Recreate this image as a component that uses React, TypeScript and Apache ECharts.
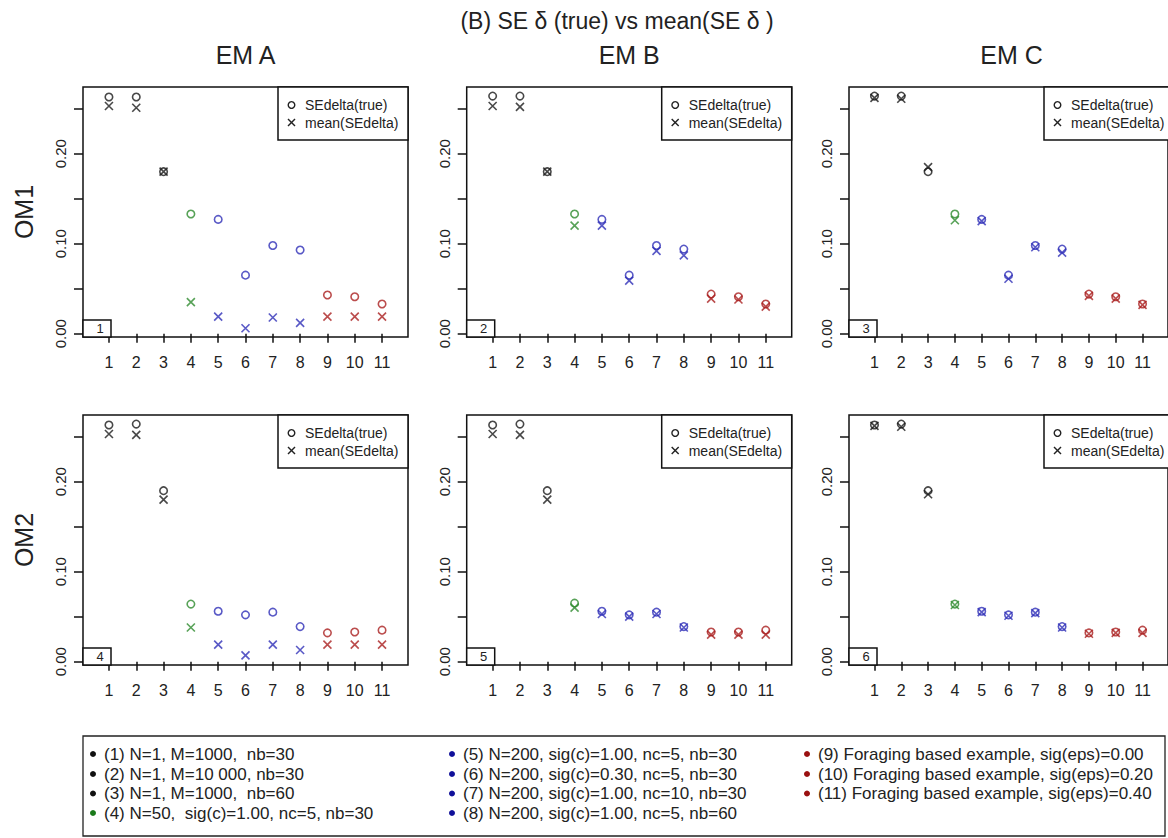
import React, { useEffect, useRef } from 'react';
import * as echarts from 'echarts';

// ---------- data ----------
const categories = [1, 2, 3, 4, 5, 6, 7, 8, 9, 10, 11];
const groupOfCategory = [0, 0, 0, 1, 2, 2, 2, 2, 3, 3, 3];

const om1EmATrue = [0.263, 0.263, 0.180, 0.133, 0.127, 0.065, 0.098, 0.093, 0.043, 0.041, 0.033];
const om1EmAMean = [0.253, 0.251, 0.180, 0.035, 0.019, 0.006, 0.018, 0.012, 0.019, 0.019, 0.019];
const om1EmBTrue = [0.264, 0.264, 0.180, 0.133, 0.127, 0.065, 0.098, 0.094, 0.044, 0.041, 0.033];
const om1EmBMean = [0.253, 0.252, 0.180, 0.120, 0.120, 0.059, 0.092, 0.087, 0.039, 0.038, 0.030];
const om1EmCTrue = [0.264, 0.264, 0.180, 0.133, 0.127, 0.065, 0.098, 0.094, 0.044, 0.041, 0.033];
const om1EmCMean = [0.262, 0.261, 0.185, 0.126, 0.125, 0.061, 0.096, 0.090, 0.042, 0.039, 0.032];
const om2EmATrue = [0.263, 0.264, 0.190, 0.064, 0.056, 0.052, 0.055, 0.039, 0.032, 0.033, 0.035];
const om2EmAMean = [0.253, 0.252, 0.180, 0.038, 0.019, 0.007, 0.019, 0.013, 0.019, 0.019, 0.019];
const om2EmBTrue = [0.263, 0.264, 0.190, 0.065, 0.056, 0.052, 0.055, 0.039, 0.033, 0.033, 0.035];
const om2EmBMean = [0.253, 0.252, 0.180, 0.060, 0.053, 0.050, 0.053, 0.038, 0.030, 0.030, 0.030];
const om2EmCTrue = [0.263, 0.264, 0.190, 0.064, 0.056, 0.052, 0.055, 0.039, 0.032, 0.033, 0.035];
const om2EmCMean = [0.262, 0.261, 0.186, 0.063, 0.055, 0.051, 0.054, 0.038, 0.031, 0.032, 0.032];

const yTickValues = [0, 0.05, 0.1, 0.15, 0.2, 0.25];
const yLabelValues = [0, 0.1, 0.2];

const mainTitle = '(B) SE \u03b4 (true) vs mean(SE \u03b4 )';
const columnTitles = ['EM A', 'EM B', 'EM C'];
const rowTitles = ['OM1', 'OM2'];
const panelLegendNames = ['SEdelta(true)', 'mean(SEdelta)'];

const scenarioLabels = [
  '(1) N=1, M=1000,  nb=30',
  '(2) N=1, M=10 000, nb=30',
  '(3) N=1, M=1000,  nb=60',
  '(4) N=50,  sig(c)=1.00, nc=5, nb=30',
  '(5) N=200, sig(c)=1.00, nc=5, nb=30',
  '(6) N=200, sig(c)=0.30, nc=5, nb=30',
  '(7) N=200, sig(c)=1.00, nc=10, nb=30',
  '(8) N=200, sig(c)=1.00, nc=5, nb=60',
  '(9) Foraging based example, sig(eps)=0.00',
  '(10) Foraging based example, sig(eps)=0.20',
  '(11) Foraging based example, sig(eps)=0.40',
];

const panels = [
  { trueVals: om1EmATrue, meanVals: om1EmAMean, tag: '1' },
  { trueVals: om1EmBTrue, meanVals: om1EmBMean, tag: '2' },
  { trueVals: om1EmCTrue, meanVals: om1EmCMean, tag: '3' },
  { trueVals: om2EmATrue, meanVals: om2EmAMean, tag: '4' },
  { trueVals: om2EmBTrue, meanVals: om2EmBMean, tag: '5' },
  { trueVals: om2EmCTrue, meanVals: om2EmCMean, tag: '6' },
];

// ---------- styling / layout ----------
const markColors = ['#1a1a1a', '#2e8b2e', '#3030b8', '#aa2020'];
const dotColors = ['#111111', '#1a7a1a', '#10109a', '#9a1010'];
const FONT = '"Liberation Sans", Arial, Helvetica, sans-serif';
const CROSS = 'path://M0,0L10,10M10,0L0,10';

const colLefts = [83, 466.7, 849];
const rowTops = [87, 415];
const PW = 325;
const PH = 250;

export default function App() {
  const ref = useRef<HTMLDivElement>(null);

  useEffect(() => {
    if (!ref.current) return;
    const chart = echarts.init(ref.current, null, { renderer: 'svg' });

    const grids: any[] = [];
    const xAxes: any[] = [];
    const yAxes: any[] = [];
    const series: any[] = [];
    const graphics: any[] = [];

    panels.forEach((p, i) => {
      const col = i % 3;
      const row = Math.floor(i / 3);
      const left = colLefts[col];
      const top = rowTops[row];
      grids.push({
        left, top, width: PW, height: PH,
        show: true, borderColor: '#111', borderWidth: 1.5, backgroundColor: 'transparent',
      });
      xAxes.push({
        type: 'value', gridIndex: i, min: 0.05, max: 11.95,
        axisLine: { show: false },
        splitLine: { show: false },
        axisTick: { show: true, length: 9, lineStyle: { color: '#111', width: 1.5 }, customValues: categories },
        axisLabel: {
          show: true, customValues: categories, margin: 17,
          fontSize: 16, color: '#222', fontFamily: FONT,
          formatter: (v: number) => String(Math.round(v)),
        },
      });
      yAxes.push({
        type: 'value', gridIndex: i, min: -0.0037, max: 0.2741,
        axisLine: { show: false },
        splitLine: { show: false },
        axisTick: { show: true, length: 9, lineStyle: { color: '#111', width: 1.5 }, customValues: yTickValues },
        axisLabel: {
          show: true, customValues: yLabelValues, rotate: 90, margin: 15,
          fontSize: 15, color: '#222', fontFamily: FONT,
          formatter: (v: number) => v.toFixed(2),
        },
      });
      series.push({
        type: 'scatter', xAxisIndex: i, yAxisIndex: i, silent: true,
        name: panelLegendNames[0], symbol: 'circle', symbolSize: 7.5, z: 3,
        data: categories.map((c, k) => ({
          value: [c, p.trueVals[k]],
          itemStyle: { color: 'transparent', borderColor: markColors[groupOfCategory[k]], borderWidth: 1.6 },
        })),
      });
      series.push({
        type: 'scatter', xAxisIndex: i, yAxisIndex: i, silent: true,
        name: panelLegendNames[1], symbol: CROSS, symbolSize: 8, z: 4,
        data: categories.map((c, k) => ({
          value: [c, p.meanVals[k]],
          itemStyle: { color: 'transparent', borderColor: markColors[groupOfCategory[k]], borderWidth: 1.6 },
        })),
      });

      // panel tag box
      graphics.push({
        type: 'rect', shape: { x: left, y: top + PH - 17, width: 28, height: 17 },
        style: { fill: '#fff', stroke: '#111', lineWidth: 1.5 }, z: 10,
      });
      graphics.push({
        type: 'text', x: left + 17, y: top + PH - 8.5, z: 11,
        style: { text: p.tag, fontSize: 13, fontFamily: FONT, fill: '#222', textAlign: 'center', textVerticalAlign: 'middle' },
      });

      // panel legend
      const lx = left + PW - 130;
      graphics.push({
        type: 'rect', shape: { x: lx, y: top, width: 130, height: 53 },
        style: { fill: '#fff', stroke: '#111', lineWidth: 1.5 }, z: 10,
      });
      graphics.push({
        type: 'circle', shape: { cx: lx + 13.5, cy: top + 18, r: 3.3 },
        style: { fill: 'none', stroke: '#222', lineWidth: 1.4 }, z: 11,
      });
      graphics.push({
        type: 'line', shape: { x1: lx + 10, y1: top + 32, x2: lx + 17, y2: top + 39 },
        style: { stroke: '#222', lineWidth: 1.4 }, z: 11,
      });
      graphics.push({
        type: 'line', shape: { x1: lx + 17, y1: top + 32, x2: lx + 10, y2: top + 39 },
        style: { stroke: '#222', lineWidth: 1.4 }, z: 11,
      });
      panelLegendNames.forEach((nm, j) => {
        graphics.push({
          type: 'text', x: lx + 27, y: top + 18 + j * 17.7, z: 11,
          style: { text: nm, fontSize: 14, fontFamily: FONT, fill: '#222', textVerticalAlign: 'middle' },
        });
      });
    });

    // titles
    graphics.push({
      type: 'text', x: 617, y: 21,
      style: { text: mainTitle, fontSize: 23, fontFamily: FONT, fill: '#222', textAlign: 'center', textVerticalAlign: 'middle' },
    });
    columnTitles.forEach((t, c) => {
      graphics.push({
        type: 'text', x: colLefts[c] + PW / 2, y: 55,
        style: { text: t, fontSize: 25, fontFamily: FONT, fill: '#222', textAlign: 'center', textVerticalAlign: 'middle' },
      });
    });
    rowTitles.forEach((t, r) => {
      graphics.push({
        type: 'text', x: 24, y: rowTops[r] + PH / 2, rotation: Math.PI / 2,
        style: { text: t, fontSize: 25, fontFamily: FONT, fill: '#222', textAlign: 'center', textVerticalAlign: 'middle' },
      });
    });

    // bottom legend
    graphics.push({
      type: 'rect', shape: { x: 83, y: 736, width: 1082, height: 100 },
      style: { fill: '#fff', stroke: '#222', lineWidth: 1.3 },
    });
    const legendCols = [93, 452, 807];
    const legendRows = [754, 774, 793.5, 813];
    scenarioLabels.forEach((lab, k) => {
      const col = k < 4 ? 0 : k < 8 ? 1 : 2;
      const row = k < 4 ? k : k < 8 ? k - 4 : k - 8;
      const bx = legendCols[col];
      const by = legendRows[row];
      graphics.push({
        type: 'circle', shape: { cx: bx, cy: by, r: 3 },
        style: { fill: dotColors[groupOfCategory[k]] },
      });
      graphics.push({
        type: 'text', x: bx + 11, y: by,
        style: { text: lab, fontSize: 17, fontFamily: FONT, fill: '#222', textVerticalAlign: 'middle' },
      });
    });

    chart.setOption({
      animation: false,
      backgroundColor: '#fff',
      grid: grids,
      xAxis: xAxes,
      yAxis: yAxes,
      series,
      graphic: { elements: graphics },
    });

    return () => chart.dispose();
  }, []);

  return (
    <div
      ref={ref}
      style={{ position: 'fixed', left: 0, top: 0, width: 1168, height: 838, background: '#fff' }}
    />
  );
}
